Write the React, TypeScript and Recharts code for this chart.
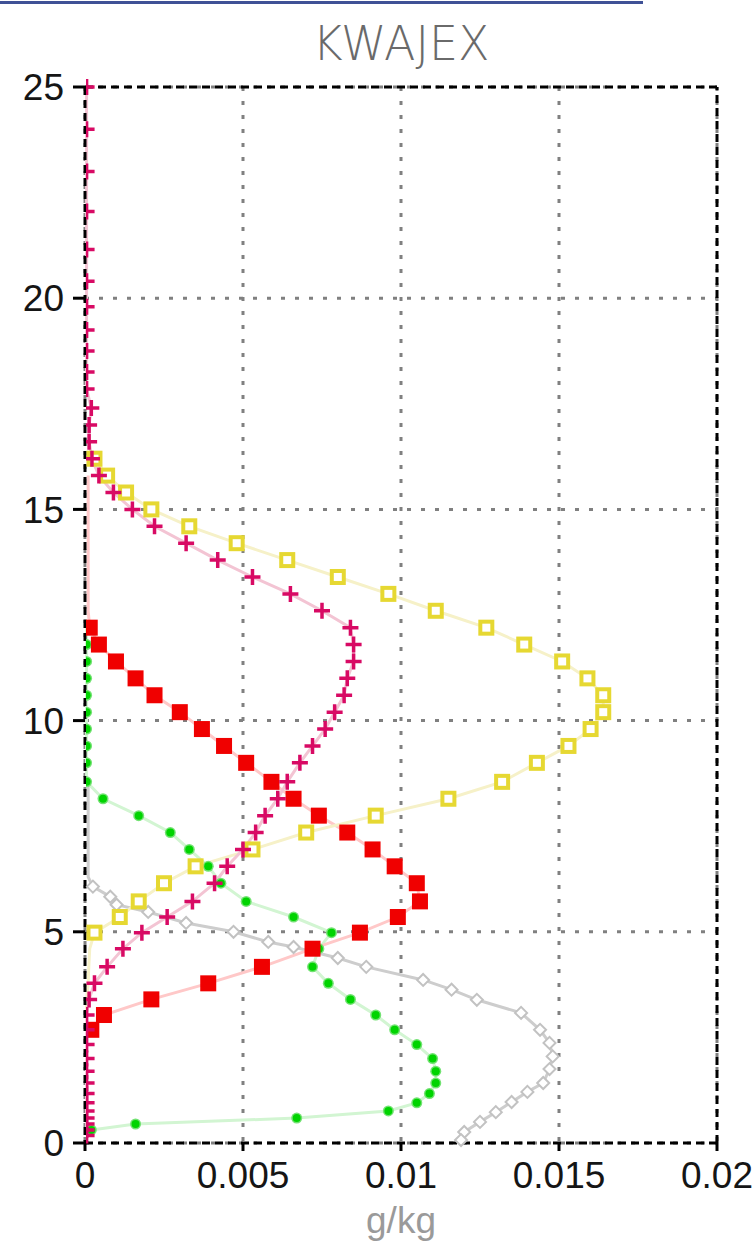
import React from 'react';
import { LineChart, Line, XAxis, YAxis, CartesianGrid, ReferenceLine } from 'recharts';

// Model levels (km) shared by the four hydrometeor profiles
const levels = [
  25.0, 24.0, 23.0, 22.05, 21.15, 20.4, 19.8, 19.25, 18.75, 18.25,
  17.85, 17.4, 17.0, 16.6, 16.2, 15.8, 15.4, 15.0, 14.6, 14.2,
  13.8, 13.4, 13.0, 12.6, 12.2, 11.8, 11.4, 11.0, 10.6, 10.2,
  9.8, 9.4, 9.0, 8.55, 8.15, 7.75, 7.35, 6.95, 6.55, 6.15,
  5.72, 5.35, 4.98, 4.6, 4.17, 3.78, 3.4, 3.03, 2.68, 2.33,
  2.0, 1.7, 1.42, 1.17, 0.95, 0.76, 0.59, 0.45, 0.31, 0.18,
];

// g/kg, one value per level (null = not drawn)
const greenValues = [
  null, null, null, null, null, null, null, null, null, null,
  null, null, null, null, null, null, null, null, null, null,
  null, null, null, null, 0.00005, 0.00005, 0.00005, 0.00005, 0.00005, 0.00005,
  0.00005, 0.00005, 0.00005, 0.00005, 0.00057, 0.0017, 0.0027, 0.0033, 0.0039, 0.0043,
  0.0051, 0.0066, 0.0078, 0.0074, 0.0072, 0.0077, 0.0084, 0.0092, 0.0098, 0.0105,
  0.011, 0.0111, 0.0111, 0.0109, 0.0105, 0.0096, 0.0067, 0.0016, 0.0002, null,
];

const redValues = [
  null, null, null, null, null, null, null, null, null, null,
  null, null, null, null, null, 0.0001, 0.0001, 0.0001, 0.0001, 0.0001,
  0.0001, 0.0001, 0.0001, 0.0001, 0.00015, 0.00044, 0.00098, 0.0016, 0.0022, 0.003,
  0.0037, 0.0044, 0.0051, 0.0059, 0.0066, 0.0074, 0.0083, 0.0091, 0.0098, 0.0105,
  0.0106, 0.0099, 0.0087, 0.0072, 0.0056, 0.0039, 0.0021, 0.0006, 0.0002, null,
  null, null, null, null, null, null, null, null, null, null,
];

const magentaValues = [
  0.00005, 0.00005, 0.00005, 0.00005, 0.00005, 0.00005, 0.00005, 0.00005, 0.00005, 0.00005,
  0.00005, 0.0002, 0.00013, 0.00013, 0.00022, 0.00044, 0.0009, 0.0015, 0.0022, 0.0032,
  0.0042, 0.0053, 0.0065, 0.0075, 0.0084, 0.0085, 0.0085, 0.0083, 0.0082, 0.0079,
  0.0076, 0.0072, 0.0068, 0.0064, 0.0061, 0.0057, 0.0054, 0.005, 0.0045, 0.0041,
  0.0034, 0.0026, 0.0018, 0.0012, 0.0007, 0.0003, 0.00013, 0.00005, 0.00005, 0.00005,
  0.00005, 0.00005, 0.00005, 0.00005, 0.00005, 0.00005, 0.00005, 0.00005, 0.00005, 0.00005,
];

const yellowValues = [
  null, null, null, null, null, null, null, null, null, null,
  null, null, null, null, 0.0003, 0.0007, 0.0013, 0.0021, 0.0033, 0.0048,
  0.0064, 0.008, 0.0096, 0.0111, 0.0127, 0.0139, 0.0151, 0.0159, 0.0164, 0.0164,
  0.016, 0.0153, 0.0143, 0.0132, 0.0115, 0.0092, 0.007, 0.0053, 0.0035, 0.0025,
  0.0017, 0.0011, 0.0003, 0.00015, 0.00012, 0.0001, 0.00005, 0.00005, null, null,
  null, null, null, null, null, null, null, null, null, null,
];

// the gray profile sits on its own, finer set of levels
const grayLevels = [
  8.6, 7.8, 7.0, 6.3, 6.07, 5.83, 5.64, 5.47, 5.21, 5.0,
  4.76, 4.64, 4.38, 4.17, 3.86, 3.63, 3.39, 3.08, 2.68, 2.37,
  2.05, 1.75, 1.42, 1.21, 0.97, 0.73, 0.5, 0.26, 0.07,
];
const grayValues = [
  0.0001, 0.0001, 0.0001, 0.0001, 0.00025, 0.0008, 0.001, 0.002, 0.0032, 0.0047,
  0.0058, 0.0066, 0.008, 0.0089, 0.0107, 0.0116, 0.0124, 0.0138, 0.0144, 0.0147,
  0.0148, 0.0147, 0.0145, 0.014, 0.0135, 0.013, 0.0125, 0.012, 0.0119,
];

const xTicks = [0, 0.005, 0.01, 0.015, 0.02];
const yTicks = [0, 5, 10, 15, 20, 25];

const rows = levels.map((z, i) => ({
  z,
  green: greenValues[i],
  red: redValues[i],
  magenta: magentaValues[i],
  yellow: yellowValues[i],
}));
const grayRows = grayLevels.map((z, i) => ({ z, gray: grayValues[i] }));

const W = 752;
const H = 1243;
const PLOT_LEFT = 85;
const CLIP = 'url(#kwajex-plot-clip)';
const tickFont = { fontSize: 37, fill: '#151515', fontFamily: '"Liberation Sans", Arial, sans-serif' };
const frame = { stroke: '#000', strokeWidth: 3, strokeDasharray: '8 5' };

const empty = (props: any) => <g key={props.key ?? `e-${props.index}`} />;
const ok = (props: any, min: number) =>
  props.cx != null && props.cy != null && props.value != null && props.value >= min;

const yellowDot = (props: any) => {
  if (!ok(props, 0.0002)) return empty(props);
  const { cx, cy } = props;
  return (
    <rect key={`y-${props.index}`} x={cx - 6} y={cy - 6} width={12} height={12}
      fill="#fff" stroke="#e6d832" strokeWidth={4} clipPath={CLIP} />
  );
};

const redDot = (props: any) => {
  if (!ok(props, 0.00015)) return empty(props);
  const { cx, cy } = props;
  return <rect key={`r-${props.index}`} x={cx - 8} y={cy - 8} width={16} height={16} fill="#f00000" clipPath={CLIP} />;
};

const magentaDot = (props: any) => {
  if (!ok(props, 0)) return empty(props);
  const { cx, cy } = props;
  return (
    <path key={`m-${props.index}`} d={`M${cx - 8},${cy}H${cx + 8}M${cx},${cy - 8}V${cy + 8}`}
      stroke="#d80a64" strokeWidth={3.5} fill="none" clipPath={CLIP} />
  );
};

const greenDot = (props: any) => {
  if (!ok(props, 0)) return empty(props);
  const { cx, cy } = props;
  return (
    <g key={`g-${props.index}`} clipPath={CLIP}>
      <circle cx={cx} cy={cy} r={5.5} fill="#72e272" />
      <circle cx={cx} cy={cy} r={4} fill="#00d400" />
    </g>
  );
};

const grayDot = (props: any) => {
  if (!ok(props, 0.0002)) return empty(props);
  const { cx, cy } = props;
  return (
    <polygon key={`k-${props.index}`}
      points={`${cx - 6},${cy} ${cx},${cy - 6} ${cx + 6},${cy} ${cx},${cy + 6}`}
      fill="#fff" stroke="#c2c2c2" strokeWidth={2} />
  );
};

export default function App() {
  return (
    <div style={{ position: 'absolute', left: 0, top: 0, width: W, height: H, background: '#fff' }}>
      <LineChart width={W} height={H} layout="vertical" margin={{ top: 87, right: 35, bottom: 0, left: 0 }}>
        <CartesianGrid stroke="#808080" strokeWidth={3} strokeDasharray="4 10" />
        <XAxis
          type="number"
          domain={[0, 0.02]}
          ticks={xTicks}
          interval={0}
          height={100}
          tickSize={8}
          tickMargin={11}
          tick={tickFont}
          tickLine={{ stroke: '#000', strokeWidth: 3 }}
          axisLine={frame}
          label={{ value: 'g/kg', position: 'insideBottom', offset: 10, fill: '#9a9a9a', fontSize: 37, fontFamily: '"Liberation Sans", Arial, sans-serif' }}
        />
        {/* vertical layout flips a numeric y axis, so flip it back: 0 km at the bottom */}
        <YAxis
          type="number"
          dataKey="z"
          domain={[0, 25]}
          reversed
          ticks={yTicks}
          interval={0}
          width={85}
          tickSize={12}
          tickMargin={9}
          tick={tickFont}
          tickLine={{ stroke: '#000', strokeWidth: 3 }}
          axisLine={frame}
        />
        <ReferenceLine y={25} {...frame} />
        <ReferenceLine x={0.02} {...frame} />
        <Line data={grayRows} dataKey="gray" stroke="#cdcdcd" strokeWidth={3} dot={grayDot} activeDot={false} isAnimationActive={false} />
        <Line data={rows} dataKey="green" stroke="#d2f5d2" strokeWidth={3} dot={greenDot} activeDot={false} isAnimationActive={false} />
        <Line data={rows} dataKey="red" stroke="#ffc8c8" strokeWidth={3} dot={redDot} activeDot={false} isAnimationActive={false} />
        <Line data={rows} dataKey="yellow" stroke="#f6f1c8" strokeWidth={3} dot={yellowDot} activeDot={false} isAnimationActive={false} />
        <Line data={rows} dataKey="magenta" stroke="#f3c4d3" strokeWidth={3} dot={magentaDot} activeDot={false} isAnimationActive={false} />
      </LineChart>
      <svg width={W} height={H} style={{ position: 'absolute', left: 0, top: 0, pointerEvents: 'none' }}>
        <defs>
          <clipPath id="kwajex-plot-clip">
            <rect x={PLOT_LEFT + 1} y={0} width={W} height={H} />
          </clipPath>
        </defs>
        <rect x={0} y={1} width={643} height={3} fill="#3f5196" />
        <text x={401} y={60} textAnchor="middle" textLength={177} lengthAdjust="spacingAndGlyphs"
          fontSize={48} fontWeight={200} fill="#6a6a6a" fontFamily='"DejaVu Sans", sans-serif'>
          KWAJEX
        </text>
      </svg>
    </div>
  );
}
